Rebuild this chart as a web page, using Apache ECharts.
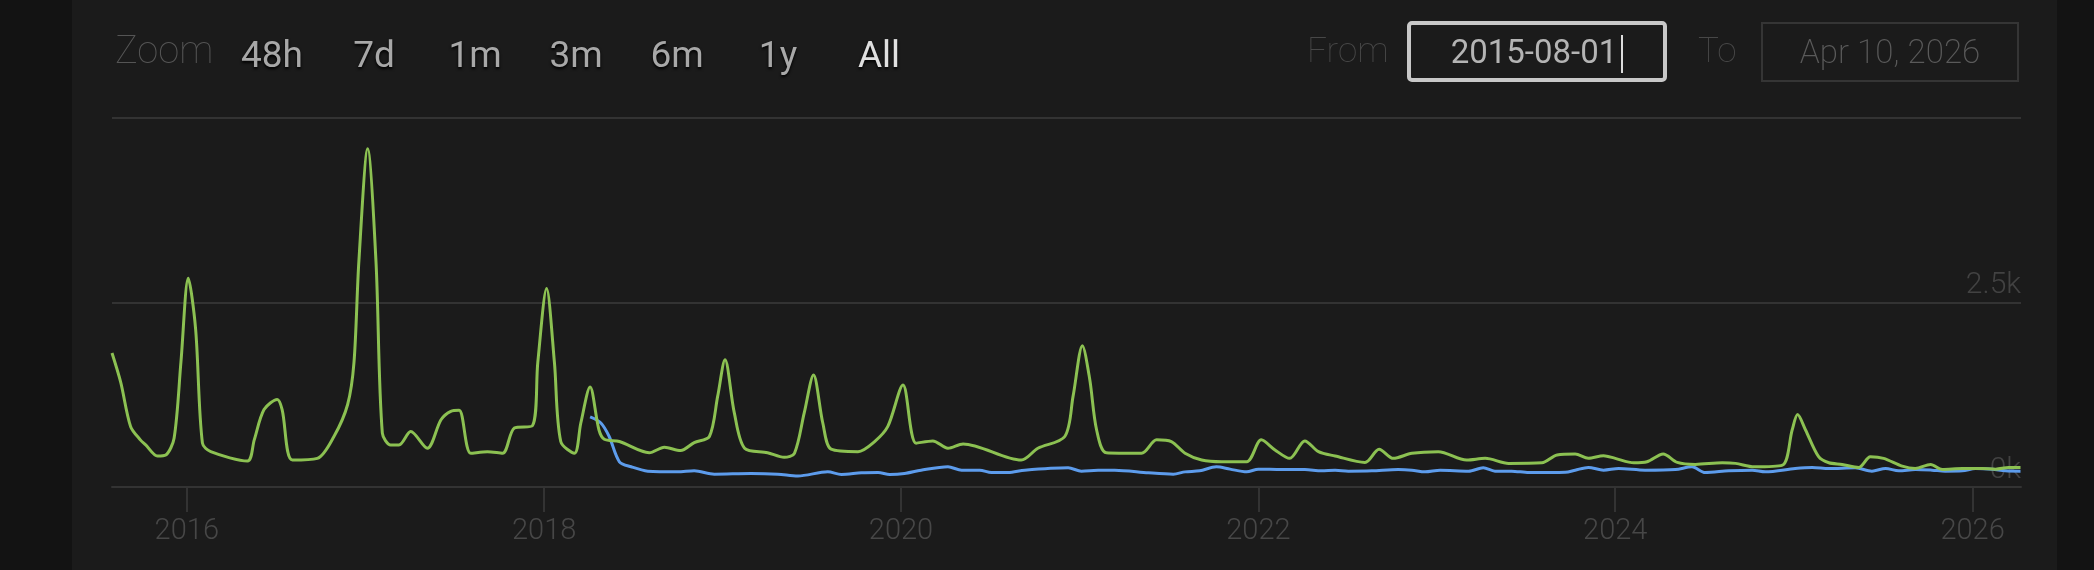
<!DOCTYPE html>
<html>
<head>
<meta charset="utf-8">
<script src="https://cdn.jsdelivr.net/npm/echarts@6/dist/echarts.min.js"></script>
<style>
  body {
    margin: 0;
    width: 2094px;
    height: 570px;
    background: #131313;
    overflow: hidden;
    font-family: Roboto, sans-serif;
  }
  .panel {
    position: absolute;
    left: 72px;
    top: 0;
    width: 1985px;
    height: 570px;
    background: #1b1b1b;
  }
  #chart {
    position: absolute;
    left: 0;
    top: 0;
    width: 2094px;
    height: 570px;
  }
  .lbl {
    position: absolute;
    font-weight: 100;
    color: #555;
    white-space: nowrap;
  }
  .btn {
    position: absolute;
    top: 36px;
    width: 100px;
    margin-left: -50px;
    text-align: center;
    font-size: 37px;
    line-height: 37px;
    color: #a8a8a8;
    text-shadow: 0 2px 3px #000;
  }
  .btn.active {
    color: #e0e0e0;
  }
  .box {
    position: absolute;
    box-sizing: border-box;
    text-align: center;
    font-size: 33px;
  }
</style>
</head>
<body>
<div class="panel"></div>
<div id="chart"></div>

<div class="lbl" style="left:115px; top:31px; font-size:38px; line-height:38px;">Zoom</div>
<div class="btn" style="left:272px">48h</div>
<div class="btn" style="left:374px">7d</div>
<div class="btn" style="left:475px">1m</div>
<div class="btn" style="left:576px">3m</div>
<div class="btn" style="left:677px">6m</div>
<div class="btn" style="left:778px">1y</div>
<div class="btn active" style="left:879px">All</div>

<div class="lbl" style="left:1307px; top:33px; font-size:35px; line-height:35px; color:#474747;">From</div>
<div class="box" style="left:1407px; top:21px; width:260px; height:61px; border:4px solid #c8c8c8; border-radius:5px; color:#b4b4b4; line-height:53px;">2015-08-01<span style="display:inline-block; width:2px; height:38px; background:#ddd; vertical-align:middle; margin-left:4px;"></span></div>
<div class="lbl" style="left:1698px; top:33px; font-size:35px; line-height:35px; color:#474747;">To</div>
<div class="box" style="left:1761px; top:22px; width:258px; height:60px; border:2px solid #353535; color:#5a5a5a; font-weight:200; line-height:56px;">Apr 10, 2026</div>

<script>
// green series (2015-08 .. 2026-04)
const greenDates = ['2015-08-01','2015-08-19','2015-09-08','2015-09-28','2015-10-09','2015-11-02','2015-11-19','2015-12-06','2015-12-20','2016-01-04',
  '2016-01-19','2016-02-02','2016-02-19','2016-05-04','2016-05-18','2016-06-07','2016-07-04','2016-07-14','2016-08-04','2016-09-24',
  '2016-10-28','2016-11-25','2016-12-08','2016-12-18','2017-01-05','2017-01-22','2017-02-04','2017-02-21','2017-03-10','2017-04-03',
  '2017-05-07','2017-06-04','2017-06-24','2017-07-11','2017-08-04','2017-09-07','2017-10-08','2017-11-01','2017-12-08','2017-12-19',
  '2018-01-06','2018-01-22','2018-02-04','2018-03-04','2018-03-17','2018-04-05','2018-04-23','2018-05-04','2018-06-04','2018-08-04',
  '2018-09-04','2018-10-07','2018-11-04','2018-12-05','2018-12-22','2019-01-06','2019-01-25','2019-02-15','2019-04-03','2019-05-07',
  '2019-05-28','2019-06-17','2019-07-06','2019-07-25','2019-08-11','2019-10-05','2019-11-08','2019-12-05','2020-01-05','2020-02-01',
  '2020-03-06','2020-04-06','2020-05-07','2020-09-03','2020-10-07','2020-12-01','2020-12-18','2021-01-06','2021-01-21','2021-02-04',
  '2021-02-24','2021-05-07','2021-06-07','2021-07-07','2021-08-04','2021-09-07','2021-10-18','2021-12-08','2022-01-07','2022-02-04',
  '2022-03-06','2022-04-06','2022-05-04','2022-06-07','2022-08-07','2022-09-05','2022-10-04','2022-11-11','2023-01-04','2023-03-03',
  '2023-04-10','2023-05-28','2023-08-04','2023-09-04','2023-10-11','2023-11-07','2023-12-08','2024-01-01','2024-02-08','2024-03-06',
  '2024-04-08','2024-05-07','2024-06-13','2024-08-07','2024-09-03','2024-10-11','2024-12-08','2024-12-28','2025-01-08','2025-01-24',
  '2025-02-20','2025-03-13','2025-04-09','2025-05-13','2025-06-06','2025-07-03','2025-08-10','2025-09-06','2025-10-07','2025-10-31',
  '2025-12-11','2026-01-21','2026-02-17','2026-03-16','2026-04-09']
const greenValues = [1815,1414,821,639,570,420,434,662,1692,2828,
  2144,594,479,352,639,1049,1186,1049,365,388,
  684,1118,1688,3056,4583,3056,730,570,570,752,
  525,912,1026,1040,457,479,457,799,830,1688,
  2691,1688,616,457,867,1354,776,648,616,465,
  539,493,602,684,1231,1724,1004,525,465,402,
  457,1004,1518,867,512,479,616,821,1382,594,
  625,525,584,365,525,684,1231,1915,1460,776,
  465,457,639,616,457,365,342,342,639,502,
  388,625,479,420,333,512,388,457,479,365,
  388,320,328,434,447,388,424,388,328,342,
  447,333,306,328,320,274,297,776,981,776,
  410,328,306,265,410,388,283,251,306,238,
  251,251,242,265,265]

// blue series (starts 2018-04)
const blueDates = ['2018-04-05','2018-04-27','2018-05-14','2018-06-04','2018-06-28','2018-08-01','2018-10-01','2018-11-04','2018-12-15','2019-02-28',
  '2019-04-24','2019-06-04','2019-08-04','2019-09-01','2019-10-12','2019-11-15','2019-12-09','2020-01-08','2020-02-11','2020-04-06',
  '2020-05-04','2020-06-10','2020-07-04','2020-08-07','2020-09-10','2020-12-08','2021-01-04','2021-02-07','2021-03-13','2021-05-21',
  '2021-07-11','2021-08-04','2021-09-03','2021-10-07','2021-11-04','2021-12-08','2022-01-01','2022-02-17','2022-04-06','2022-05-10',
  '2022-06-07','2022-07-04','2022-08-21','2022-10-14','2022-11-11','2022-12-08','2023-01-08','2023-03-07','2023-04-06','2023-04-30',
  '2023-06-03','2023-07-08','2023-09-21','2023-10-11','2023-11-07','2023-12-08','2024-01-08','2024-03-02','2024-05-03','2024-06-06',
  '2024-07-03','2024-08-20','2024-10-07','2024-11-03','2025-01-03','2025-02-07','2025-03-13','2025-05-06','2025-06-09','2025-07-07',
  '2025-08-03','2025-09-06','2025-10-10','2025-11-06','2025-12-11','2026-01-07','2026-02-10','2026-03-09','2026-04-09']
const blueValues = [949,867,684,342,274,215,205,219,174,183,
  174,150,205,170,192,196,170,183,228,274,
  228,228,196,196,228,260,215,228,228,192,
  174,205,219,274,242,205,242,237,237,219,
  228,215,219,237,228,205,228,215,260,215,
  215,196,200,228,265,228,251,228,237,274,
  196,219,228,205,251,265,251,260,215,251,
  219,237,228,215,219,251,242,219,215]

const yearTicks = ['2016', '2018', '2020', '2022', '2024', '2026']

const toTime = s => echarts.time.parse(s).getTime()
const pairs = (dates, values) => dates.map((d, i) => [toTime(d), values[i]])
const yearTickValues = yearTicks.map(y => toTime(y + '-01-01'))

const chart = echarts.init(document.getElementById('chart'))
const option = {
  animation: false,
  grid: {
    left: 112,
    right: 73,
    top: 118,
    bottom: 83,
  },
  xAxis: {
    // timestamps on a plain value axis so that only the even years get ticks
    type: 'value',
    min: toTime('2015-08-01'),
    max: toTime('2026-04-10'),
    axisLine: {
      lineStyle: {color: '#333', width: 2}
    },
    axisTick: {
      show: true,
      customValues: yearTickValues,
      length: 25,
      lineStyle: {color: '#333', width: 2}
    },
    axisLabel: {
      customValues: yearTickValues,
      formatter: (v) => String(new Date(v).getFullYear()),
      color: '#474747',
      fontFamily: 'Roboto',
      fontWeight: 300,
      fontSize: 29,
      margin: 30,
    },
    splitLine: {show: false},
  },
  yAxis: {
    type: 'value',
    position: 'right',
    min: 0,
    max: 5000,
    interval: 2500,
    axisLine: {show: false},
    axisTick: {show: false},
    axisLabel: {
      inside: true,
      margin: 0,
      verticalAlign: 'bottom',
      formatter: (v) => v === 5000 ? '' : (v / 1000) + 'k',
      color: '#424242',
      fontFamily: 'Roboto',
      fontWeight: 300,
      fontSize: 30,
      padding: [0, 0, 2, 0],
    },
    splitLine: {
      lineStyle: {color: '#333', width: 2}
    },
  },
  series: [{
    type: 'line',
    data: pairs(blueDates, blueValues),
    showSymbol: false,
    smooth: 0.3,
    lineStyle: {color: '#5d9cec', width: 3},
    itemStyle: {color: '#5d9cec'},
  }, {
    type: 'line',
    data: pairs(greenDates, greenValues),
    showSymbol: false,
    smooth: 0.3,
    lineStyle: {color: '#8cc152', width: 3},
    itemStyle: {color: '#8cc152'},
  }],
}
chart.setOption(option)
</script>
</body>
</html>
